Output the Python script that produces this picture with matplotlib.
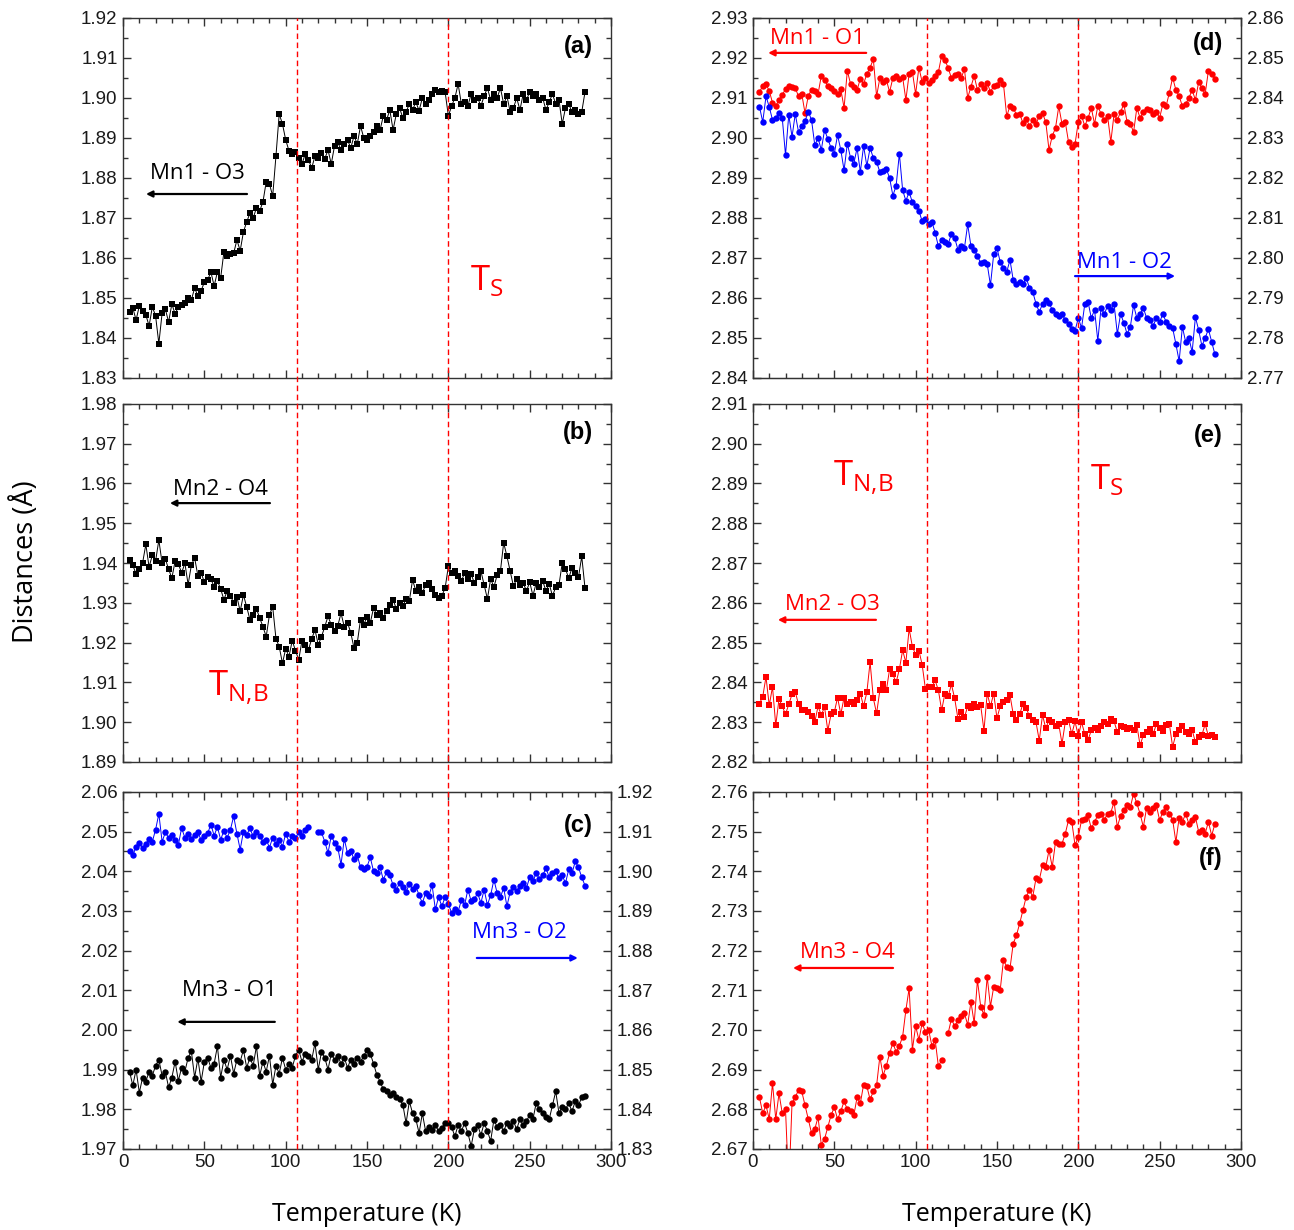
import numpy as np
import matplotlib
matplotlib.use('Agg')
import matplotlib.pyplot as plt
from matplotlib.lines import Line2D
from matplotlib.ticker import MultipleLocator, FormatStrFormatter
from matplotlib.transforms import blended_transform_factory

plt.rcParams['font.family'] = ['Liberation Sans', 'DejaVu Sans']
plt.rcParams['mathtext.fontset'] = 'custom'
plt.rcParams['mathtext.rm'] = 'Open Sans'

# temperature grid (K)
temp = np.arange(4, 286, 2)

# (a) Mn1 - O3
mn1_o3 = [
    1.8465, 1.8475, 1.8445, 1.8480, 1.8468, 1.8458, 1.8430, 1.8478, 1.8455, 1.8386,
    1.8462, 1.8472, 1.8440, 1.8485, 1.8460, 1.8478, 1.8482, 1.8488, 1.8500, 1.8495,
    1.8525, 1.8505, 1.8518, 1.8540, 1.8545, 1.8565, 1.8530, 1.8565, 1.8550, 1.8615,
    1.8605, 1.8610, 1.8612, 1.8645, 1.8618, 1.8665, 1.8690, 1.8712, 1.8700, 1.8725,
    1.8718, 1.8740, 1.8790, 1.8785, 1.8755, 1.8855, 1.8960, 1.8935, 1.8895, 1.8868,
    1.8860, 1.8865, 1.8850, 1.8835, 1.8860, 1.8845, 1.8825, 1.8855, 1.8850, 1.8862,
    1.8848, 1.8870, 1.8835, 1.8880, 1.8890, 1.8870, 1.8885, 1.8895, 1.8875, 1.8905,
    1.8885, 1.8930, 1.8900, 1.8895, 1.8905, 1.8915, 1.8930, 1.8920, 1.8955, 1.8945,
    1.8970, 1.8920, 1.8960, 1.8975, 1.8950, 1.8965, 1.8985, 1.8970, 1.8990, 1.8968,
    1.9000, 1.8985, 1.8995, 1.9010, 1.9020, 1.9015, 1.9018, 1.9015, 1.8955, 1.8980,
    1.9000, 1.9035, 1.8985, 1.8990, 1.8980, 1.9010, 1.8995, 1.9000, 1.8980, 1.9005,
    1.9025, 1.8995, 1.9010, 1.9000, 1.9025, 1.8985, 1.9005, 1.8965, 1.8975, 1.9000,
    1.8970, 1.9010, 1.8995, 1.9015, 1.9005, 1.9010, 1.8995, 1.9000, 1.8970, 1.8990,
    1.9010, 1.8985, 1.8995, 1.8935, 1.8975, 1.8985, 1.8965, 1.8970, 1.8960, 1.8965,
    1.9015,
]

# (b) Mn2 - O4
mn2_o4 = [
    1.9408, 1.9395, 1.9372, 1.9385, 1.9400, 1.9447, 1.9390, 1.9420, 1.9405, 1.9458,
    1.9400, 1.9410, 1.9385, 1.9362, 1.9405, 1.9398, 1.9375, 1.9400, 1.9346, 1.9395,
    1.9413, 1.9368, 1.9375, 1.9352, 1.9365, 1.9360, 1.9340, 1.9355, 1.9335, 1.9308,
    1.9330, 1.9318, 1.9300, 1.9315, 1.9279, 1.9320, 1.9290, 1.9258, 1.9270, 1.9285,
    1.9262, 1.9240, 1.9215, 1.9270, 1.9290, 1.9210, 1.9190, 1.9148, 1.9185, 1.9165,
    1.9205, 1.9180, 1.9157, 1.9205, 1.9195, 1.9182, 1.9210, 1.9232, 1.9195, 1.9215,
    1.9240, 1.9266, 1.9245, 1.9230, 1.9242, 1.9274, 1.9240, 1.9250, 1.9225, 1.9186,
    1.9200, 1.9258, 1.9245, 1.9265, 1.9250, 1.9287, 1.9270, 1.9275, 1.9262, 1.9280,
    1.9295, 1.9308, 1.9285, 1.9300, 1.9292, 1.9310, 1.9305, 1.9358, 1.9330, 1.9340,
    1.9325, 1.9345, 1.9350, 1.9335, 1.9320, 1.9312, 1.9318, 1.9337, 1.9392, 1.9375,
    1.9380, 1.9368, 1.9355, 1.9375, 1.9360, 1.9372, 1.9350, 1.9365, 1.9380, 1.9345,
    1.9310, 1.9360, 1.9340, 1.9370, 1.9380, 1.9451, 1.9417, 1.9380, 1.9342, 1.9360,
    1.9345, 1.9350, 1.9330, 1.9352, 1.9318, 1.9350, 1.9340, 1.9355, 1.9330, 1.9348,
    1.9317, 1.9340, 1.9345, 1.9400, 1.9385, 1.9362, 1.9388, 1.9375, 1.9365, 1.9417,
    1.9337,
]

# (c) Mn3 - O1 (left axis)
mn3_o1 = [
    1.9895, 1.9860, 1.9900, 1.9842, 1.9880, 1.9870, 1.9895, 1.9885, 1.9910, 1.9925,
    1.9885, 1.9895, 1.9855, 1.9880, 1.9920, 1.9872, 1.9905, 1.9895, 1.9930, 1.9946,
    1.9880, 1.9928, 1.9870, 1.9920, 1.9930, 1.9905, 1.9915, 1.9959, 1.9880, 1.9925,
    1.9900, 1.9935, 1.9890, 1.9925, 1.9920, 1.9950, 1.9905, 1.9930, 1.9910, 1.9959,
    1.9885, 1.9920, 1.9895, 1.9935, 1.9862, 1.9910, 1.9890, 1.9930, 1.9900, 1.9915,
    1.9905, 1.9935, 1.9950, 1.9920, 1.9940, 1.9935, 1.9925, 1.9967, 1.9900, 1.9945,
    1.9930, 1.9900, 1.9940, 1.9925, 1.9935, 1.9915, 1.9930, 1.9905, 1.9925, 1.9915,
    1.9930, 1.9920, 1.9935, 1.9950, 1.9940, 1.9915, 1.9887, 1.9870, 1.9850, 1.9845,
    1.9837, 1.9840, 1.9830, 1.9825, 1.9812, 1.9765, 1.9820, 1.9790, 1.9775, 1.9740,
    1.9790, 1.9745, 1.9755, 1.9749, 1.9760, 1.9745, 1.9752, 1.9765, 1.9766, 1.9755,
    1.9732, 1.9760, 1.9745, 1.9765, 1.9740, 1.9707, 1.9750, 1.9760, 1.9735, 1.9765,
    1.9745, 1.9720, 1.9774, 1.9755, 1.9760, 1.9745, 1.9765, 1.9758, 1.9770, 1.9750,
    1.9775, 1.9760, 1.9770, 1.9786, 1.9775, 1.9816, 1.9800, 1.9790, 1.9780, 1.9775,
    1.9810, 1.9845, 1.9790, 1.9805, 1.9800, 1.9815, 1.9795, 1.9820, 1.9810, 1.9830,
    1.9833,
]

# (c) Mn3 - O2 (right axis)
mn3_o2 = [
    1.9050, 1.9040, 1.9062, 1.9072, 1.9058, 1.9068, 1.9082, 1.9075, 1.9105, 1.9145,
    1.9075, 1.9098, 1.9085, 1.9092, 1.9080, 1.9067, 1.9109, 1.9085, 1.9095, 1.9082,
    1.9092, 1.9100, 1.9078, 1.9088, 1.9096, 1.9118, 1.9090, 1.9112, 1.9080, 1.9102,
    1.9085, 1.9105, 1.9139, 1.9095, 1.9055, 1.9100, 1.9092, 1.9108, 1.9088, 1.9098,
    1.9090, 1.9075, 1.9080, 1.9060, 1.9085, 1.9070, 1.9080, 1.9062, 1.9095, 1.9075,
    1.9088, 1.9084, 1.9098, 1.9090, 1.9105, 1.9113, np.nan, np.nan, 1.9100, 1.9098,
    1.9075, 1.9046, 1.9090, 1.9072, 1.9060, 1.9017, 1.9082, 1.9045, 1.9052, 1.9030,
    1.9040, 1.9010, 1.9005, 1.9012, 1.9035, 1.9000, 1.8995, 1.9010, 1.8979, 1.8998,
    1.8990, 1.8965, 1.8954, 1.8970, 1.8960, 1.8948, 1.8968, 1.8955, 1.8962, 1.8940,
    1.8920, 1.8945, 1.8938, 1.8965, 1.8904, 1.8935, 1.8912, 1.8935, 1.8918, 1.8895,
    1.8905, 1.8898, 1.8928, 1.8915, 1.8954, 1.8925, 1.8930, 1.8945, 1.8920, 1.8954,
    1.8915, 1.8940, 1.8979, 1.8945, 1.8935, 1.8958, 1.8912, 1.8948, 1.8960, 1.8950,
    1.8962, 1.8970, 1.8958, 1.8985, 1.8975, 1.8996, 1.8980, 1.8990, 1.9008, 1.8985,
    1.8995, 1.9000, 1.8982, 1.8990, 1.8970, 1.9005, 1.8995, 1.9025, 1.9010, 1.8985,
    1.8964,
]

# (d) Mn1 - O1 (left axis)
mn1_o1 = [
    2.9115, 2.9130, 2.9134, 2.9118, 2.9088, 2.9080, 2.9095, 2.9108, 2.9122, 2.9130,
    2.9128, 2.9125, 2.9104, 2.9110, 2.9062, 2.9105, 2.9121, 2.9117, 2.9110, 2.9155,
    2.9145, 2.9130, 2.9125, 2.9118, 2.9110, 2.9122, 2.9075, 2.9168, 2.9135, 2.9128,
    2.9120, 2.9148, 2.9135, 2.9160, 2.9176, 2.9197, 2.9104, 2.9150, 2.9140, 2.9145,
    2.9115, 2.9150, 2.9155, 2.9148, 2.9152, 2.9095, 2.9160, 2.9165, 2.9110, 2.9176,
    2.9140, 2.9150, 2.9138, 2.9145, 2.9155, 2.9165, 2.9206, 2.9195, 2.9175, 2.9150,
    2.9158, 2.9160, 2.9150, 2.9172, 2.9100, 2.9128, 2.9155, 2.9120, 2.9135, 2.9125,
    2.9138, 2.9115, 2.9130, 2.9132, 2.9145, 2.9135, 2.9054, 2.9080, 2.9075, 2.9058,
    2.9060, 2.9037, 2.9048, 2.9030, 2.9045, 2.9035, 2.9055, 2.9062, 2.9040, 2.8970,
    2.9005, 2.9025, 2.9079, 2.9035, 2.9040, 2.8990, 2.8978, 2.8985, 2.9040, 2.9055,
    2.9030, 2.9050, 2.9075, 2.9035, 2.9080, 2.9060, 2.9045, 2.9055, 2.8990, 2.9060,
    2.9045, 2.9065, 2.9085, 2.9040, 2.9035, 2.9015, 2.9075, 2.9050, 2.9065, 2.9072,
    2.9070, 2.9060, 2.9065, 2.9050, 2.9085, 2.9080, 2.9113, 2.9151, 2.9120, 2.9105,
    2.9079, 2.9085, 2.9100, 2.9120, 2.9095, 2.9140, 2.9125, 2.9110, 2.9168, 2.9160,
    2.9147,
]

# (d) Mn1 - O2 (right axis)
mn1_o2 = [
    2.8378, 2.8340, 2.8404, 2.8378, 2.8345, 2.8350, 2.8362, 2.8350, 2.8257, 2.8358,
    2.8303, 2.8360, 2.8315, 2.8330, 2.8342, 2.8366, 2.8345, 2.8282, 2.8300, 2.8270,
    2.8320, 2.8298, 2.8275, 2.8261, 2.8307, 2.8270, 2.8219, 2.8286, 2.8250, 2.8236,
    2.8275, 2.8215, 2.8280, 2.8230, 2.8275, 2.8250, 2.8240, 2.8215, 2.8218, 2.8222,
    2.8200, 2.8156, 2.8180, 2.8261, 2.8170, 2.8143, 2.8165, 2.8139, 2.8130, 2.8118,
    2.8092, 2.8098, 2.8084, 2.8090, 2.8063, 2.8029, 2.8045, 2.8040, 2.8035, 2.8060,
    2.8050, 2.8021, 2.8030, 2.8025, 2.8084, 2.8030, 2.8020, 2.8005, 2.7987, 2.7990,
    2.7985, 2.7932, 2.8010, 2.8025, 2.7990, 2.7975, 2.7965, 2.7995, 2.7945, 2.7936,
    2.7940, 2.7935, 2.7950, 2.7925, 2.7915, 2.7886, 2.7865, 2.7885, 2.7895, 2.7888,
    2.7870, 2.7860, 2.7856, 2.7860, 2.7845, 2.7835, 2.7822, 2.7818, 2.7850, 2.7825,
    2.7885, 2.7890, 2.7850, 2.7870, 2.7793, 2.7875, 2.7860, 2.7880, 2.7870, 2.7885,
    2.7810, 2.7860, 2.7838, 2.7810, 2.7828, 2.7882, 2.7850, 2.7860, 2.7875, 2.7850,
    2.7845, 2.7830, 2.7850, 2.7840, 2.7860, 2.7840, 2.7830, 2.7825, 2.7785, 2.7742,
    2.7828, 2.7790, 2.7800, 2.7765, 2.7852, 2.7820, 2.7780, 2.7800, 2.7822, 2.7790,
    2.7759,
]

# (e) Mn2 - O3
mn2_o3 = [
    2.8347, 2.8364, 2.8414, 2.8342, 2.8389, 2.8292, 2.8358, 2.8340, 2.8320, 2.8345,
    2.8370, 2.8376, 2.8345, 2.8330, 2.8330, 2.8325, 2.8315, 2.8300, 2.8340, 2.8318,
    2.8338, 2.8279, 2.8320, 2.8325, 2.8362, 2.8320, 2.8362, 2.8345, 2.8350, 2.8345,
    2.8355, 2.8372, 2.8340, 2.8375, 2.8451, 2.8360, 2.8322, 2.8380, 2.8395, 2.8380,
    2.8433, 2.8420, 2.8400, 2.8433, 2.8481, 2.8450, 2.8535, 2.8490, 2.8470, 2.8480,
    2.8445, 2.8384, 2.8388, 2.8388, 2.8405, 2.8380, 2.8330, 2.8372, 2.8365, 2.8395,
    2.8360, 2.8309, 2.8325, 2.8312, 2.8340, 2.8335, 2.8345, 2.8338, 2.8342, 2.8279,
    2.8372, 2.8340, 2.8372, 2.8310, 2.8340, 2.8350, 2.8355, 2.8368, 2.8320, 2.8305,
    2.8320, 2.8347, 2.8335, 2.8315, 2.8305, 2.8300, 2.8254, 2.8318, 2.8285, 2.8305,
    2.8300, 2.8290, 2.8295, 2.8246, 2.8300, 2.8305, 2.8270, 2.8302, 2.8265, 2.8300,
    2.8270, 2.8255, 2.8280, 2.8285, 2.8280, 2.8290, 2.8300, 2.8295, 2.8309, 2.8302,
    2.8275, 2.8290, 2.8288, 2.8282, 2.8285, 2.8280, 2.8292, 2.8242, 2.8268, 2.8275,
    2.8282, 2.8270, 2.8295, 2.8285, 2.8278, 2.8292, 2.8295, 2.8238, 2.8270, 2.8280,
    2.8290, 2.8275, 2.8270, 2.8280, 2.8250, 2.8262, 2.8268, 2.8295, 2.8265, 2.8268,
    2.8263,
]

# (f) Mn3 - O4
mn3_o4 = [
    2.6830, 2.6790, 2.6810, 2.6775, 2.6866, 2.6775, 2.6840, 2.6790, 2.6800, 2.6600,
    2.6815, 2.6830, 2.6849, 2.6845, 2.6810, 2.6775, 2.6740, 2.6750, 2.6780, 2.6711,
    2.6725, 2.6755, 2.6785, 2.6805, 2.6775, 2.6795, 2.6820, 2.6800, 2.6795, 2.6785,
    2.6830, 2.6815, 2.6862, 2.6858, 2.6825, 2.6845, 2.6860, 2.6933, 2.6885, 2.6910,
    2.6941, 2.6967, 2.6945, 2.6960, 2.6983, 2.7050, 2.7105, 2.6950, 2.7010, 2.6975,
    2.7017, 2.6995, 2.7000, 2.6960, 2.6975, 2.6908, 2.6925, np.nan, 2.6992, 2.7028,
    2.7009, 2.7025, 2.7034, 2.7042, 2.7013, 2.7071, 2.7017, 2.7126, 2.7059, 2.7038,
    2.7134, 2.7059, 2.7109, 2.7105, 2.7101, 2.7176, 2.7160, 2.7155, 2.7218, 2.7239,
    2.7269, 2.7302, 2.7336, 2.7353, 2.7336, 2.7382, 2.7378, 2.7415, 2.7411, 2.7453,
    2.7411, 2.7474, 2.7470, 2.7470, 2.7495, 2.7529, 2.7525, 2.7466, 2.7487, 2.7529,
    2.7533, 2.7541, 2.7508, 2.7525, 2.7541, 2.7545, 2.7530, 2.7545, 2.7548, 2.7575,
    2.7512, 2.7540, 2.7554, 2.7566, 2.7562, 2.7596, 2.7571, 2.7545, 2.7512, 2.7560,
    2.7550, 2.7560, 2.7566, 2.7529, 2.7550, 2.7562, 2.7545, 2.7530, 2.7474, 2.7535,
    2.7525, 2.7545, 2.7520, 2.7530, 2.7537, 2.7500, 2.7505, 2.7495, 2.7525, 2.7490,
    2.7520,
]

# transition temperatures (K)
t_nb = 107
t_s = 200

BLUE = '#0000ff'
RED = '#ff0000'
EDGE = '#333333'
LABEL_FONT = ['Open Sans', 'DejaVu Sans']


def style_axes(ax, lo, hi, xlabels=False):
    ax.set_xlim(0, 300)
    ax.set_ylim(lo, hi)
    ax.xaxis.set_major_locator(MultipleLocator(50))
    ax.xaxis.set_minor_locator(MultipleLocator(10))
    ax.yaxis.set_major_locator(MultipleLocator(0.01))
    ax.yaxis.set_minor_locator(MultipleLocator(0.005))
    ax.yaxis.set_major_formatter(FormatStrFormatter('%.2f'))
    ax.tick_params(which='both', direction='in', top=True, right=True,
                   color=EDGE, labelcolor='#1a1a1a', labelsize=13.5, width=1)
    ax.tick_params(which='major', length=6, pad=4)
    ax.tick_params(which='minor', length=3.5)
    ax.tick_params(axis='x', labelbottom=xlabels, pad=4)
    for sp in ax.spines.values():
        sp.set_color(EDGE)
        sp.set_linewidth(1)


def style_twin(ax, lo, hi):
    ax.set_ylim(lo, hi)
    ax.yaxis.set_major_locator(MultipleLocator(0.01))
    ax.yaxis.set_minor_locator(MultipleLocator(0.005))
    ax.yaxis.set_major_formatter(FormatStrFormatter('%.2f'))
    ax.tick_params(axis='y', which='both', direction='in', color=EDGE,
                   labelcolor='#1a1a1a', labelsize=13.5, width=1, pad=4)
    ax.tick_params(axis='y', which='major', length=6)
    ax.tick_params(axis='y', which='minor', length=3.5)
    for sp in ax.spines.values():
        sp.set_color(EDGE)


def series(ax, y, color, marker, ms):
    ax.plot(temp, y, '-', color=color, lw=0.7, marker=marker, ms=ms, mew=0)


def bond_label(ax, text, tx, ty, x0, x1, ya, color):
    ax.text(tx, ty, text, transform=ax.transAxes, fontsize=16, color=color,
            family=LABEL_FONT, va='center', ha='left')
    ax.annotate('', xy=(x1, ya), xytext=(x0, ya), xycoords='axes fraction',
                arrowprops=dict(arrowstyle='-|>', color=color, lw=1.6,
                                mutation_scale=9, shrinkA=0, shrinkB=0))


def panel_tag(ax, tag, y):
    ax.text(0.963, y, tag, transform=ax.transAxes, ha='right', va='center',
            fontsize=17, fontweight='bold')


def t_label(ax, text, x, y):
    ax.text(x, y, text, transform=ax.transAxes, fontsize=25, color=RED,
            family=LABEL_FONT, va='center', ha='left')


fig = plt.figure(figsize=(12.94, 12.30), dpi=100)
col_x = [0.0951, 0.5819]
col_w = 0.3771
rows = [(0.6927, 0.2927), (0.3805, 0.2911), (0.0659, 0.2902)]

ax_a = fig.add_axes([col_x[0], rows[0][0], col_w, rows[0][1]])
ax_b = fig.add_axes([col_x[0], rows[1][0], col_w, rows[1][1]])
ax_c = fig.add_axes([col_x[0], rows[2][0], col_w, rows[2][1]])
ax_d = fig.add_axes([col_x[1], rows[0][0], col_w, rows[0][1]])
ax_e = fig.add_axes([col_x[1], rows[1][0], col_w, rows[1][1]])
ax_f = fig.add_axes([col_x[1], rows[2][0], col_w, rows[2][1]])

# left column
style_axes(ax_a, 1.83, 1.92)
series(ax_a, mn1_o3, 'k', 's', 4.0)
bond_label(ax_a, 'Mn1 - O3', 0.055, 0.569, 0.254, 0.047, 0.511, 'k')
t_label(ax_a, r'T$_\mathregular{S}$', 0.711, 0.272)
panel_tag(ax_a, '(a)', 0.922)

style_axes(ax_b, 1.89, 1.98)
series(ax_b, mn2_o4, 'k', 's', 4.0)
bond_label(ax_b, 'Mn2 - O4', 0.102, 0.76, 0.301, 0.096, 0.723, 'k')
t_label(ax_b, r'T$_\mathregular{N{,}B}$', 0.174, 0.207)
panel_tag(ax_b, '(b)', 0.92)

style_axes(ax_c, 1.97, 2.06, xlabels=True)
series(ax_c, mn3_o1, 'k', 'o', 4.6)
ax_c2 = ax_c.twinx()
style_twin(ax_c2, 1.83, 1.92)
series(ax_c2, mn3_o2, BLUE, 'o', 4.6)
bond_label(ax_c, 'Mn3 - O1', 0.121, 0.445, 0.311, 0.111, 0.356, 'k')
bond_label(ax_c, 'Mn3 - O2', 0.715, 0.605, 0.725, 0.932, 0.535, BLUE)
panel_tag(ax_c, '(c)', 0.905)
ax_c.set_xlabel('Temperature (K)', fontsize=18, family=LABEL_FONT, labelpad=22)

# right column
style_axes(ax_d, 2.84, 2.93)
series(ax_d, mn1_o1, RED, 'o', 4.6)
ax_d2 = ax_d.twinx()
style_twin(ax_d2, 2.77, 2.86)
series(ax_d2, mn1_o2, BLUE, 'o', 4.6)
bond_label(ax_d, 'Mn1 - O1', 0.035, 0.944, 0.232, 0.031, 0.903, RED)
bond_label(ax_d, 'Mn1 - O2', 0.664, 0.322, 0.66, 0.865, 0.283, BLUE)
panel_tag(ax_d, '(d)', 0.93)

style_axes(ax_e, 2.82, 2.91)
series(ax_e, mn2_o3, RED, 's', 4.0)
bond_label(ax_e, 'Mn2 - O3', 0.066, 0.441, 0.252, 0.051, 0.397, RED)
t_label(ax_e, r'T$_\mathregular{N{,}B}$', 0.164, 0.793)
t_label(ax_e, r'T$_\mathregular{S}$', 0.69, 0.79)
panel_tag(ax_e, '(e)', 0.913)

style_axes(ax_f, 2.67, 2.76, xlabels=True)
series(ax_f, mn3_o4, RED, 'o', 4.6)
bond_label(ax_f, 'Mn3 - O4', 0.096, 0.549, 0.287, 0.082, 0.507, RED)
panel_tag(ax_f, '(f)', 0.815)
ax_f.set_xlabel('Temperature (K)', fontsize=18, family=LABEL_FONT, labelpad=22)

fig.text(0.02, 0.543, 'Distances (Å)', rotation=90, fontsize=19.5,
         family=LABEL_FONT, va='center', ha='center')

# transition markers running through each whole column
y_lo = rows[2][0]
y_hi = rows[0][0] + rows[0][1]
for ax_bottom in (ax_c, ax_f):
    trans = blended_transform_factory(ax_bottom.transData, fig.transFigure)
    for t in (t_nb, t_s):
        fig.add_artist(Line2D([t, t], [y_lo, y_hi], transform=trans,
                              color=RED, lw=1.0, linestyle=(0, (4, 2.5))))

fig.savefig('out.png', dpi=100)
